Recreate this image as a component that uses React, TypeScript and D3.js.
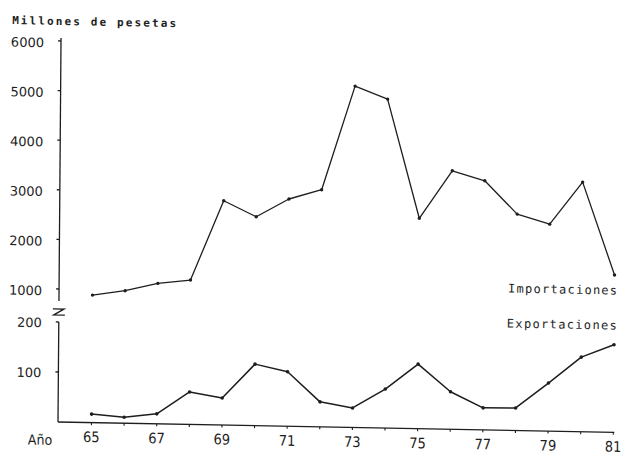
import React from "react";
import * as d3 from "d3";

const years = [65, 66, 67, 68, 69, 70, 71, 72, 73, 74, 75, 76, 77, 78, 79, 80, 81];
const importaciones = [890, 990, 1150, 1230, 2840, 2530, 2900, 3100, 5200, 4950, 2560, 3530, 3340, 2680, 2490, 3350, 1490];
const exportaciones = [17, 12, 20, 65, 54, 123, 109, 50, 39, 78, 129, 75, 44, 45, 96, 149, 175];
const upperTicks = [1000, 2000, 3000, 4000, 5000, 6000];
const lowerTicks = [100, 200];
const yearLabels = [65, 67, 69, 71, 73, 75, 77, 79, 81];

const INK = "#1e1e1e";

export default function App() {
  const x = d3.scaleLinear().domain([65, 81]).range([91.5, 613.3]);
  const yTop = d3.scaleLinear().domain([1000, 6000]).range([289, 41]);
  const yBot = d3.scaleLinear().domain([0, 200]).range([422, 322]);

  const impPts = years.map((yr, i) => [x(yr), yTop(importaciones[i])] as [number, number]);
  const expPts = years.map((yr, i) => [x(yr), yBot(exportaciones[i])] as [number, number]);
  const line = d3.line();

  const axisX = 58;
  const tickFont = "'DejaVu Sans', sans-serif";
  const condFont = "'DejaVu Sans Condensed', 'DejaVu Sans', sans-serif";
  const monoFont = "'DejaVu Sans Mono', monospace";

  return (
    <svg
      width={623}
      height={454}
      style={{ position: "absolute", left: 0, top: 0, display: "block", background: "#fff" }}
    >
      <rect x={0} y={0} width={623} height={454} fill="#fff" />
      <g transform="matrix(1,0.0185,-0.0079,1,3.33,-1.073)">
        <text x={9} y={25} fontFamily={monoFont} fontSize={11} fontWeight="bold" fill={INK}
          textLength={164} lengthAdjust="spacing">Millones de pesetas</text>

        {/* upper axis */}
        <line x1={axisX} x2={axisX} y1={38} y2={301} stroke={INK} strokeWidth={1.3} />
        {upperTicks.map((t) => (
          <g key={t}>
            <line x1={axisX - 3} x2={axisX} y1={yTop(t)} y2={yTop(t)} stroke={INK} strokeWidth={1.3} />
            <text x={41} y={yTop(t) + 2} dy="0.35em" textAnchor="end" fontFamily={tickFont} fontSize={13} fill={INK}>{t}</text>
          </g>
        ))}

        {/* break mark */}
        <path d={`M${axisX - 6},309 H${axisX + 5} L${axisX - 5},315 H${axisX + 6}`} fill="none" stroke={INK} strokeWidth={1.4} />

        {/* lower axis */}
        <line x1={axisX} x2={axisX} y1={yBot(200)} y2={yBot(0)} stroke={INK} strokeWidth={1.3} />
        {lowerTicks.map((t) => (
          <g key={t}>
            <line x1={axisX - 3} x2={axisX} y1={yBot(t)} y2={yBot(t)} stroke={INK} strokeWidth={1.3} />
            <text x={41} y={yBot(t) + 1} dy="0.35em" textAnchor="end" fontFamily={tickFont} fontSize={13} fill={INK}>{t}</text>
          </g>
        ))}

        {/* x axis */}
        <line x1={axisX} x2={x(81) + 1} y1={yBot(0)} y2={yBot(0)} stroke={INK} strokeWidth={1.3} />
        {years.map((yr) => (
          <line key={yr} x1={x(yr)} x2={x(yr)} y1={yBot(0)} y2={yBot(0) + 2.5} stroke={INK} strokeWidth={1.1} />
        ))}
        {yearLabels.map((yr) => (
          <text key={yr} x={x(yr)} y={441.5} textAnchor="middle" fontFamily={condFont} fontSize={14.5} fill={INK}>{yr}</text>
        ))}
        <text x={28} y={445} fontFamily={condFont} fontSize={14} fill={INK}>Año</text>

        {/* series */}
        <path d={line(impPts) || ""} fill="none" stroke={INK} strokeWidth={1.3} strokeLinejoin="round" />
        {impPts.map((p, i) => (
          <circle key={i} cx={p[0]} cy={p[1]} r={1.7} fill={INK} />
        ))}
        <path d={line(expPts) || ""} fill="none" stroke={INK} strokeWidth={1.5} strokeLinejoin="round" />
        {expPts.map((p, i) => (
          <circle key={i} cx={p[0]} cy={p[1]} r={1.8} fill={INK} />
        ))}

        <text x={507} y={284.2} fontFamily={monoFont} fontSize={12} fill={INK}
          textLength={109} lengthAdjust="spacing">Importaciones</text>
        <text x={506} y={319.2} fontFamily={monoFont} fontSize={12} fill={INK}
          textLength={110} lengthAdjust="spacing">Exportaciones</text>
      </g>
    </svg>
  );
}
